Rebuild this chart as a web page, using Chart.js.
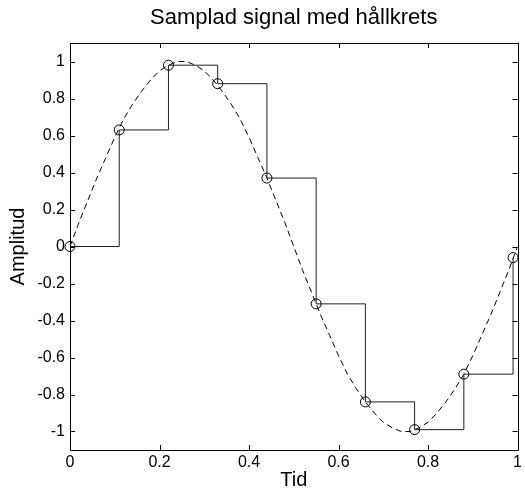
<!DOCTYPE html>
<html>
<head>
<meta charset="utf-8">
<script src="https://cdn.jsdelivr.net/npm/chart.js@4.4.0/dist/chart.umd.min.js"></script>
<style>
  html, body { margin: 0; padding: 0; background: #fff; }
  #wrap { width: 525px; height: 493px; }
</style>
</head>
<body>
<div id="wrap"><canvas id="c" width="525" height="493"></canvas></div>
<script>
// Continuous signal (dashed)
const curveT = [0,0.02,0.04,0.06,0.08,0.10,0.12,0.14,0.16,0.18,0.20,0.22,0.24,0.26,0.28,0.30,0.32,0.34,0.36,0.38,0.40,0.42,0.44,0.46,0.48,0.50,0.52,0.54,0.56,0.58,0.60,0.62,0.64,0.66,0.68,0.70,0.72,0.74,0.76,0.78,0.80,0.82,0.84,0.86,0.88,0.90,0.92,0.94,0.96,0.98,1.00];
const curveY = [0,0.13,0.25,0.37,0.48,0.59,0.69,0.77,0.84,0.90,0.95,0.98,1.00,1.00,0.98,0.95,0.90,0.84,0.77,0.69,0.59,0.48,0.37,0.25,0.13,0,-0.13,-0.25,-0.37,-0.48,-0.59,-0.69,-0.77,-0.84,-0.90,-0.95,-0.98,-1.00,-1.00,-0.98,-0.95,-0.90,-0.84,-0.77,-0.69,-0.59,-0.48,-0.37,-0.25,-0.13,0];
// Samples (circles) and sample-and-hold staircase
const sampleT = [0,0.11,0.22,0.33,0.44,0.55,0.66,0.77,0.88,0.99];
const sampleY = [0,0.63,0.98,0.88,0.37,-0.31,-0.84,-0.99,-0.69,-0.06];
// Tick labels
const xTicks = [0,0.2,0.4,0.6,0.8,1];
const yTicks = [-1,-0.8,-0.6,-0.4,-0.2,0,0.2,0.4,0.6,0.8,1];

const curveData = curveT.map((t,i)=>({x:t,y:curveY[i]}));
const sampleData = sampleT.map((t,i)=>({x:t,y:sampleY[i]}));

const FONT = "'Liberation Sans', Arial, Helvetica, sans-serif";

const boxPlugin = {
  id: 'box',
  afterDatasetsDraw(chart) {
    const {ctx, chartArea: a, scales} = chart;
    ctx.save();
    ctx.strokeStyle = '#000';
    ctx.lineWidth = 1;
    ctx.beginPath();
    ctx.rect(Math.round(a.left)+0.5, Math.round(a.top)+0.5, Math.round(a.right-a.left), Math.round(a.bottom-a.top));
    const L = 5;
    xTicks.forEach(v=>{
      const px = Math.round(scales.x.getPixelForValue(v))+0.5;
      ctx.moveTo(px, a.bottom); ctx.lineTo(px, a.bottom-L);
      ctx.moveTo(px, a.top); ctx.lineTo(px, a.top+L);
    });
    yTicks.forEach(v=>{
      const py = Math.round(scales.y.getPixelForValue(v))+0.5;
      ctx.moveTo(a.left, py); ctx.lineTo(a.left+L, py);
      ctx.moveTo(a.right, py); ctx.lineTo(a.right-L, py);
    });
    ctx.stroke();
    ctx.restore();
  }
};

new Chart(document.getElementById('c'), {
  type: 'scatter',
  data: {
    datasets: [
      {
        data: curveData, showLine: true, borderColor: '#000', borderWidth: 1,
        borderDash: [6,4], pointRadius: 0, fill: false, order: 3
      },
      {
        data: sampleData, showLine: true, stepped: true, borderColor: '#222', borderWidth: 1,
        pointRadius: 0, fill: false, order: 2
      },
      {
        data: sampleData, showLine: false, pointStyle: 'circle', pointRadius: 5,
        pointBorderColor: '#000', pointBackgroundColor: 'rgba(0,0,0,0)', pointBorderWidth: 1,
        clip: false, order: 1
      }
    ]
  },
  options: {
    responsive: false,
    animation: false,
    devicePixelRatio: 1,
    layout: { padding: { left: 0, right: 7, top: 0, bottom: 0 } },
    plugins: {
      legend: { display: false },
      tooltip: { enabled: false },
      title: {
        display: true, fullSize: false, text: 'Samplad signal med hållkrets', color: '#000',
        font: { family: FONT, size: 22, weight: 'normal' },
        padding: { top: 5, bottom: 11.6 }
      }
    },
    scales: {
      x: {
        type: 'linear', min: 0, max: 1,
        grid: { display: false, drawTicks: false },
        border: { display: false },
        afterBuildTicks: s => { s.ticks = xTicks.map(v=>({value:v})); },
        afterFit: s => { s.height = 43; },
        ticks: { color: '#000', padding: 3, maxRotation: 0, autoSkip: false,
          font: { family: FONT, size: 16 }, callback: v => String(v) },
        title: { display: true, text: 'Tid', color: '#000', padding: { top: 0, bottom: 1 },
          font: { family: FONT, size: 20 } }
      },
      y: {
        type: 'linear', min: -1.1, max: 1.1,
        grid: { display: false, drawTicks: false },
        border: { display: false },
        afterBuildTicks: s => { s.ticks = yTicks.map(v=>({value:v})); },
        afterFit: s => { s.width = 70; },
        ticks: { color: '#000', padding: 5, autoSkip: false,
          font: { family: FONT, size: 16 }, callback: v => String(v) },
        title: { display: true, text: 'Amplitud', color: '#000', padding: { top: 6, bottom: 0 },
          font: { family: FONT, size: 20 } }
      }
    }
  },
  plugins: [boxPlugin]
});
</script>
</body>
</html>
